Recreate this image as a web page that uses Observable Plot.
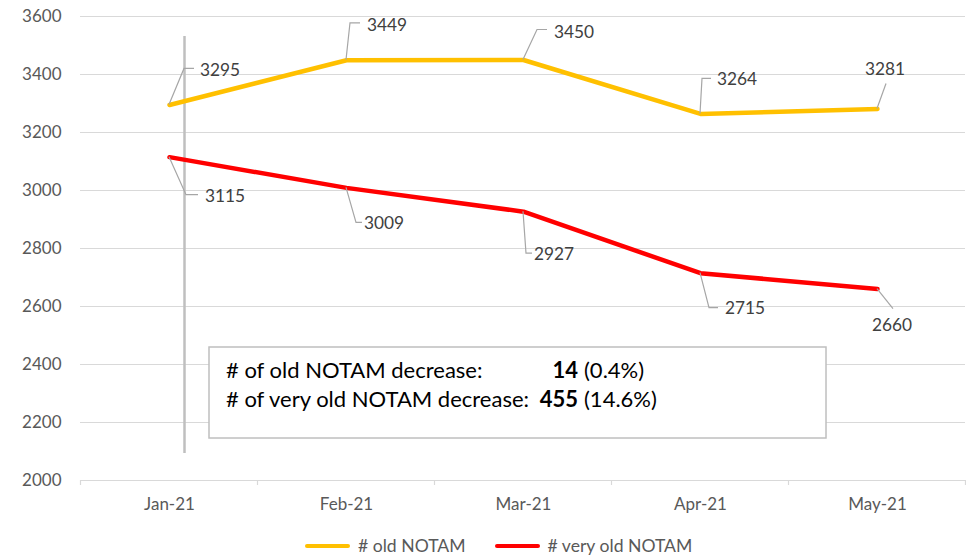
<!DOCTYPE html>
<html><head><meta charset="utf-8">
<script src="https://cdn.jsdelivr.net/npm/d3@7"></script>
<script src="https://cdn.jsdelivr.net/npm/@observablehq/plot@0.6"></script>
<style>
body{margin:0;background:#fff;font-family:Lato,"Open Sans",sans-serif;}
#wrap{position:relative;width:966px;height:558px;overflow:hidden;}
#legend{position:absolute;left:305px;top:535px;display:flex;align-items:center;font-size:17.6px;color:#595959;white-space:nowrap;}
#legend .sw{display:inline-block;width:45px;height:4px;border-radius:2px;margin-right:8px;}
#legend .item{display:flex;align-items:center;margin-right:29px;}
</style></head><body><div id="wrap"></div>
<script>
const months = ["Jan-21","Feb-21","Mar-21","Apr-21","May-21"];
const oldNotam = [3295,3449,3450,3264,3281];
const veryOldNotam = [3115,3009,2927,2715,2660];
const yTicks = [2000,2200,2400,2600,2800,3000,3200,3400,3600];
const seriesNames = ["# old NOTAM","# very old NOTAM"];
const summaryLabels = ["# of old NOTAM decrease:","# of very old NOTAM decrease:"];
const summaryValues = ["14","455"];
const summaryPercents = ["(0.4%)","(14.6%)"];

const colors = ["#FFC000","#FF0000"];
const rows = [];
months.forEach((m,i)=>{rows.push({month:m,value:oldNotam[i],series:seriesNames[0]});});
months.forEach((m,i)=>{rows.push({month:m,value:veryOldNotam[i],series:seriesNames[1]});});

// label callout offsets (pixels from point): knee, end of horizontal, text anchor
const calloutOld = [
  {k:[15,-36],e:[25,-36],t:[31,-35],a:"start"},
  {k:[4,-37],e:[14,-37],t:[21,-35],a:"start"},
  {k:[14,-30],e:[24,-30],t:[31,-28],a:"start"},
  {k:[2,-35],e:[11,-35],t:[17,-34],a:"start"},
  {k:[9,-25],e:[9,-25],t:[8,-40],a:"middle"}
];
const calloutVeryOld = [
  {k:[17,38],e:[29,38],t:[36,39],a:"start"},
  {k:[10,35],e:[16,35],t:[18,36],a:"start"},
  {k:[3,42],e:[9,42],t:[11,43],a:"start"},
  {k:[9,35],e:[18,35],t:[25,35],a:"start"},
  {k:[16,20],e:[16,20],t:[15,36],a:"middle"}
];

const chart = Plot.plot({
  width:966, height:515,
  marginLeft:80, marginRight:1, marginTop:16, marginBottom:35,
  style:{fontFamily:"Lato, 'Open Sans', sans-serif", fontSize:"17px", color:"#595959", background:"#fff"},
  x:{type:"point", domain:months, padding:0.5, label:null},
  y:{domain:[2000,3600], label:null},
  color:{domain:seriesNames, range:colors},
  marks:[
    Plot.ruleY(yTicks,{stroke:"#D9D9D9", strokeWidth:1.2}),
    Plot.axisY({ticks:yTicks, tickSize:0, tickPadding:19, label:null, fill:"#595959", tickFormat:d=>String(d)}),
    Plot.axisX({tickSize:0, tickPadding:17, label:null, fill:"#595959"}),
    Plot.ruleX([months[0]],{dx:15, y1:3531, y2:2093, stroke:"#BFBFBF", strokeWidth:2.5}),
    Plot.line(rows,{x:"month", y:"value", z:"series", stroke:"series", strokeWidth:4.5, strokeLinejoin:"round"})
  ]
});

const wrap = document.getElementById("wrap");
wrap.appendChild(chart);
const svg = d3.select(chart);
const xs = chart.scale("x"), ys = chart.scale("y");
const X = v => xs.apply(v), Y = v => ys.apply(v);
const step = X(months[1]) - X(months[0]);

// category boundary ticks
const g = svg.append("g").attr("text-anchor","start");
months.concat(["_end"]).forEach((m,i)=>{
  const bx = (i<months.length ? X(m) : X(months[months.length-1]) + step) - step/2;
  g.append("line").attr("x1",bx).attr("x2",bx).attr("y1",Y(2000)).attr("y2",Y(2000)+5)
    .attr("stroke","#D9D9D9").attr("stroke-width",1.2);
});

function callouts(vals, offs){
  vals.forEach((v,i)=>{
    const px = X(months[i]), py = Y(v), o = offs[i];
    g.append("polyline")
      .attr("points",[[px,py],[px+o.k[0],py+o.k[1]],[px+o.e[0],py+o.e[1]]].map(p=>p.join(",")).join(" "))
      .attr("fill","none").attr("stroke","#A6A6A6").attr("stroke-width",1.2);
    g.append("text").attr("x",px+o.t[0]).attr("y",py+o.t[1]).attr("dy","0.35em")
      .attr("text-anchor",o.a).attr("fill","#404040").attr("font-size","17.3px").text(v);
  });
}
callouts(oldNotam, calloutOld);
callouts(veryOldNotam, calloutVeryOld);

// summary box
const bx0 = 209, by0 = 347;
g.append("rect").attr("x",bx0).attr("y",by0).attr("width",617).attr("height",91)
  .attr("fill","#fff").attr("stroke","#BFBFBF").attr("stroke-width",1.5);
summaryLabels.forEach((lab,i)=>{
  const yy = by0 + 23 + i*29;
  g.append("text").attr("x",bx0+17).attr("y",yy).attr("dy","0.35em").attr("text-anchor","start")
    .attr("fill","#000").attr("font-size","22px").text(lab);
  g.append("text").attr("x",bx0+369).attr("y",yy).attr("dy","0.35em").attr("text-anchor","end")
    .attr("fill","#000").attr("font-size","22px").attr("font-weight","bold").text(summaryValues[i]);
  g.append("text").attr("x",bx0+375).attr("y",yy).attr("dy","0.35em").attr("text-anchor","start")
    .attr("fill","#000").attr("font-size","22px").text(summaryPercents[i]);
});

// legend
const leg = document.createElement("div");
leg.id = "legend";
seriesNames.forEach((n,i)=>{
  const it = document.createElement("span"); it.className="item";
  const sw = document.createElement("span"); sw.className="sw"; sw.style.background=colors[i];
  it.appendChild(sw); it.appendChild(document.createTextNode(n));
  leg.appendChild(it);
});
wrap.appendChild(leg);
</script></body></html>
